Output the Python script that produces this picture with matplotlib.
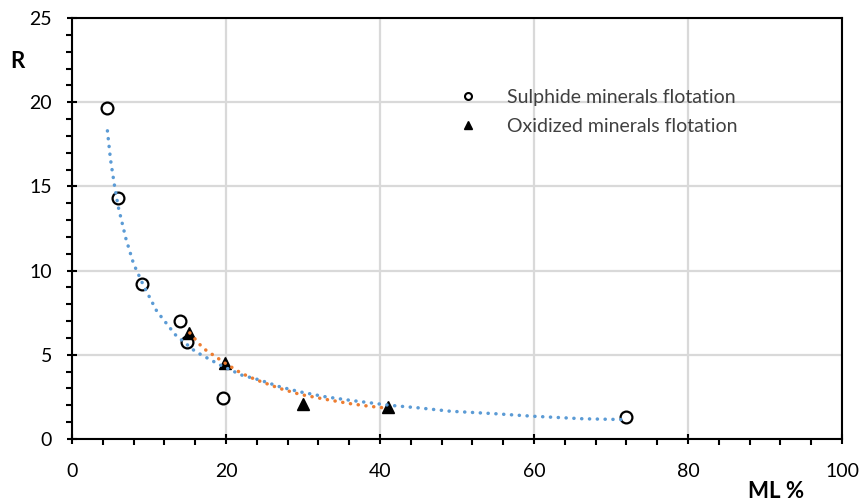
import numpy as np
import matplotlib.pyplot as plt
from matplotlib.lines import Line2D
from matplotlib.ticker import MultipleLocator

# measured points
sulph_x = [4.5, 6.0, 9.1, 14.0, 14.9, 19.6, 71.9]
sulph_y = [19.65, 14.3, 9.2, 7.0, 5.76, 2.43, 1.3]
oxid_x = [15.2, 19.9, 30.0, 41.0]
oxid_y = [6.3, 4.5, 2.1, 1.9]

# trend lines
blue_x = [4.6, 5.0, 5.5, 6.0, 7.0, 8.0, 9.3, 11.0, 13.4, 16.0, 19.2, 22.0, 24.4, 27.0,
          29.6, 33.0, 36.1, 41.3, 45.0, 49.1, 55.0, 59.9, 63.0, 66.4, 72.0]
blue_y = [18.3, 16.6, 15.1, 13.8, 11.9, 10.4, 9.1, 7.6, 6.2, 5.2, 4.4, 3.8, 3.5, 3.1,
          2.8, 2.5, 2.3, 2.0, 1.85, 1.65, 1.5, 1.35, 1.28, 1.2, 1.15]
orange_x = [15.3, 17.0, 19.9, 22.0, 24.0, 27.0, 29.6, 33.0, 36.1, 38.5, 40.9]
orange_y = [6.3, 5.4, 4.5, 3.9, 3.5, 3.0, 2.65, 2.35, 2.1, 1.95, 1.83]

plt.rcParams['font.family'] = ['Lato', 'DejaVu Sans']

fig = plt.figure(figsize=(8.62, 5.04), dpi=100)
ax = fig.add_axes([72 / 862, 1 - 439 / 504, 770 / 862, 421 / 504])

ax.plot(sulph_x, sulph_y, 'o', ms=8.5, mfc='white', mec='black', mew=1.6, zorder=3)
ax.plot(oxid_x, oxid_y, '^', ms=8.5, color='black', zorder=3)

dots = (0, (0.05, 2.2))
ax.plot(blue_x, blue_y, color='#5B9BD5', lw=2.5, ls=dots, dash_capstyle='round', zorder=4)
ax.plot(orange_x, orange_y, color='#ED7D31', lw=2.5, ls=dots, dash_capstyle='round', zorder=4)

ax.set_xlim(0, 100)
ax.set_ylim(0, 25)
ax.xaxis.set_major_locator(MultipleLocator(20))
ax.xaxis.set_minor_locator(MultipleLocator(4))
ax.yaxis.set_major_locator(MultipleLocator(5))
ax.yaxis.set_minor_locator(MultipleLocator(1))
ax.grid(True, which='major', color='#d9d9d9', lw=1.6)
ax.set_axisbelow(True)
for s in ax.spines.values():
    s.set_linewidth(1.5)
ax.tick_params(which='major', direction='inout', length=7, width=1.5, labelsize=14)
ax.tick_params(which='minor', direction='out', length=4, width=1.5)
ax.tick_params(axis='y', which='major', pad=11)
ax.tick_params(axis='x', which='major', pad=14)

fig.text(17 / 862, 1 - 62 / 504, 'R', fontsize=16, fontweight='bold', ha='center', va='center')
fig.text(776 / 862, 1 - 492 / 504, 'ML %', fontsize=16, fontweight='bold', ha='center', va='center')

handles = [Line2D([], [], marker='o', ls='none', ms=5, mfc='white', mec='black', mew=1.5),
           Line2D([], [], marker='^', ls='none', ms=6, color='black')]
ax.legend(handles, ['Sulphide minerals flotation', 'Oxidized minerals flotation'],
          loc='upper left', bbox_to_anchor=(431 / 862, 1 - 71 / 504),
          bbox_transform=fig.transFigure, frameon=False, fontsize=14,
          handletextpad=1.0, labelspacing=0.62, labelcolor='#404040')

fig.savefig('out.png', dpi=100)
